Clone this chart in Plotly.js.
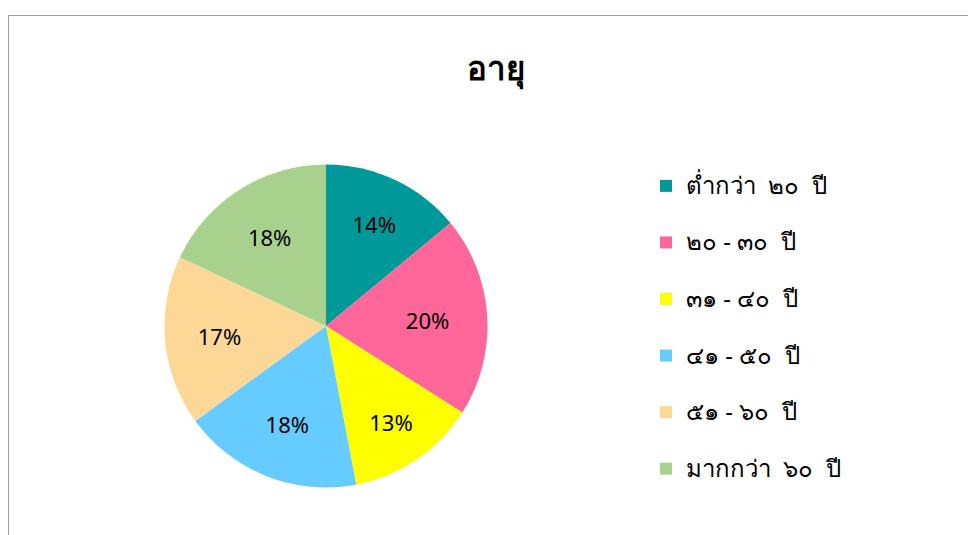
<!DOCTYPE html>
<html>
<head>
<meta charset="utf-8">
<script src="https://cdn.plot.ly/plotly-3.0.1.min.js"></script>
<style>
html,body{margin:0;padding:0;background:#fff;}
#wrap{position:relative;width:968px;height:535px;}
#chart{position:absolute;left:0;top:0;width:968px;height:535px;}
#frame{position:absolute;left:8px;top:15px;width:960px;height:520px;border-left:1px solid #a0a0a0;border-top:1px solid #a0a0a0;pointer-events:none;}
</style>
</head>
<body>
<div id="wrap"><div id="chart"></div><div id="frame"></div></div>
<script>
const chartTitle = "อายุ";
const categories = ["ต่ำกว่า ๒๐ ปี", "๒๐ - ๓๐ ปี", "๓๑ - ๔๐ ปี", "๔๑ - ๕๐ ปี", "๕๑ - ๖๐ ปี", "มากกว่า ๖๐ ปี"];
const values = [14, 20, 13, 18, 17, 18];
const colors = ["#009999", "#FF6699", "#FFFF00", "#66CCFF", "#FDD795", "#A9D18E"];

const fontFam = "Tahoma, 'Noto Sans', 'DejaVu Sans', sans-serif";

function legendLabel(c) {
  // widen word gaps like the original, keep a blank second line for spacing
  const t = c.replace(/ - /g, "\u00a0-\u00a0").replace(/ /g, "\u00a0\u00a0");
  return '<span style="font-size:24px">' + t + '</span><br>\u00a0';
}

const trace = {
  type: "pie",
  labels: categories.map(legendLabel),
  values: values,
  sort: false,
  direction: "clockwise",
  rotation: 0,
  marker: {colors: colors, line: {width: 0}},
  textinfo: "percent",
  textposition: "inside",
  insidetextorientation: "horizontal",
  insidetextfont: {family: fontFam, size: 22, color: "#000"},
  hoverinfo: "percent",
  domain: {x: [164.5/968, 487.5/968], y: [47.5/535, 370.5/535]}
};

const layout = {
  width: 968, height: 535,
  margin: {l: 0, r: 0, t: 0, b: 0},
  paper_bgcolor: "#fff",
  title: {text: "<b>" + chartTitle + "</b>", font: {family: fontFam, size: 33, color: "#000"}, x: 496/968, xanchor: "center", y: 1 - 68/535, yanchor: "middle"},
  showlegend: true,
  legend: {
    x: 646/968, xanchor: "left",
    y: 1 - 166/535, yanchor: "top",
    valign: "top",
    font: {family: fontFam, size: 20.6, color: "#000"},
    itemclick: false
  }
};

Plotly.newPlot("chart", [trace], layout, {displayModeBar: false, staticPlot: true});
</script>
</body>
</html>
